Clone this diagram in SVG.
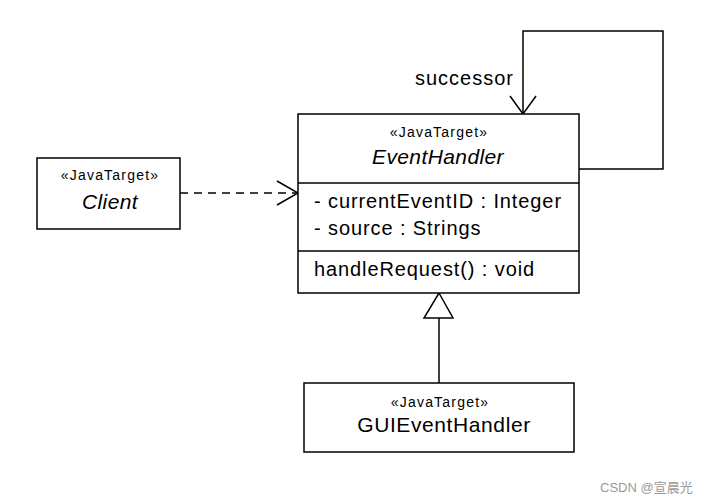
<svg xmlns="http://www.w3.org/2000/svg" width="714" height="503" viewBox="0 0 714 503">
<style>
.box{fill:#fff;stroke:#000;stroke-width:1.5}
.ln{fill:none;stroke:#000;stroke-width:1.5}
text{font-family:"Liberation Sans",Arial,sans-serif;fill:#000}
.st{font-size:14px;letter-spacing:1.2px;text-anchor:middle}
.nm{font-size:21px;text-anchor:middle}
.it{font-style:italic}
.at{font-size:20px;letter-spacing:0.9px}
</style>
<rect width="714" height="503" fill="#fff"/>
<g id="connectors">
<path class="ln" d="M579 169 H663 V31 H523 V114"/>
<path class="ln" d="M510 96 L523 114 L536 96"/>
<text x="415" y="85" style="font-size:20px;letter-spacing:1px">successor</text>
<path class="ln" d="M180 193 H296" stroke-dasharray="8,6"/>
<path class="ln" d="M277 181 L298 193 L277 205"/>
<path class="ln" d="M439 318 V383"/>
<path class="box" d="M439 293 L453 318 H424 Z"/>
</g>
<g id="Client">
<rect class="box" x="37" y="158" width="143" height="71"/>
<text class="st" x="110" y="180">«JavaTarget»</text>
<text class="nm it" x="110" y="209" style="letter-spacing:0.4px">Client</text>
</g>
<g id="EventHandler">
<rect class="box" x="298" y="114" width="281" height="179"/>
<line class="ln" x1="298" y1="183" x2="579" y2="183"/>
<line class="ln" x1="298" y1="251" x2="579" y2="251"/>
<text class="st" x="439" y="137">«JavaTarget»</text>
<text class="nm it" x="438" y="164" style="letter-spacing:0.4px">EventHandler</text>
<text class="at" x="314" y="208">- currentEventID : Integer</text>
<text class="at" x="314" y="235">- source : Strings</text>
<text class="at" x="314" y="276">handleRequest() : void</text>
</g>
<g id="GUIEventHandler">
<rect class="box" x="304" y="383" width="270" height="69"/>
<text class="st" x="440" y="407">«JavaTarget»</text>
<text class="nm" x="444" y="432" style="letter-spacing:0.6px">GUIEventHandler</text>
</g>
<text x="600" y="492" style="font-size:13px;fill:#999;font-family:'Liberation Sans','Noto Sans CJK SC',sans-serif">CSDN @宣晨光</text>
</svg>
